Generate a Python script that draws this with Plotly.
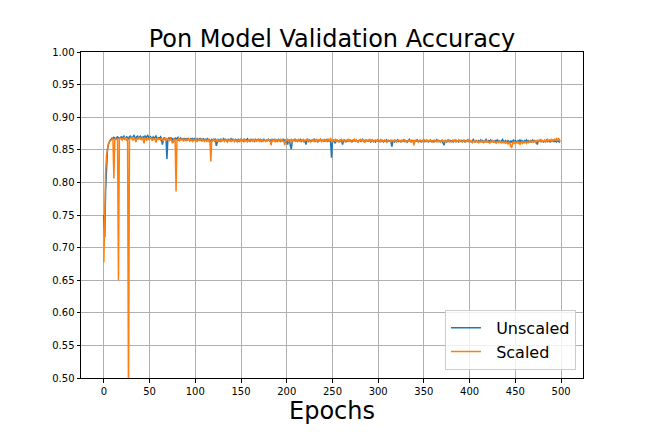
import plotly.graph_objects as go

# validation accuracy per epoch
unscaled = [
    0.750, 0.716, 0.790, 0.840, 0.851, 0.858, 0.862, 0.865, 0.866, 0.868,
    0.867, 0.869, 0.868, 0.866, 0.869, 0.870, 0.868, 0.867, 0.869, 0.870,
    0.868, 0.869, 0.871, 0.867, 0.868, 0.870, 0.869, 0.866, 0.870, 0.871,
    0.869, 0.868, 0.870, 0.872, 0.869, 0.867, 0.870, 0.871, 0.868, 0.869,
    0.871, 0.869, 0.866, 0.870, 0.869, 0.871, 0.868, 0.870, 0.872, 0.869,
    0.868, 0.870, 0.869, 0.867, 0.870, 0.868, 0.869, 0.871, 0.868, 0.866,
    0.869, 0.867, 0.870, 0.868, 0.858, 0.867, 0.869, 0.866, 0.868, 0.836,
    0.866, 0.868, 0.867, 0.869, 0.866, 0.868, 0.861, 0.867, 0.868, 0.866,
    0.867, 0.869, 0.865, 0.867, 0.868, 0.866, 0.867, 0.865, 0.868, 0.866,
    0.867, 0.865, 0.868, 0.866, 0.864, 0.867, 0.866, 0.868, 0.865, 0.867,
    0.866, 0.864, 0.867, 0.865, 0.866, 0.868, 0.865, 0.864, 0.866, 0.867,
    0.865, 0.866, 0.864, 0.867, 0.865, 0.866, 0.863, 0.865, 0.866, 0.864,
    0.866, 0.865, 0.867, 0.856, 0.864, 0.866, 0.865, 0.863, 0.866, 0.864,
    0.865, 0.867, 0.864, 0.866, 0.865, 0.863, 0.866, 0.864, 0.865, 0.867,
    0.864, 0.866, 0.865, 0.863, 0.866, 0.865, 0.864, 0.866, 0.863, 0.865,
    0.866, 0.864, 0.865, 0.863, 0.866, 0.864, 0.865, 0.867, 0.864, 0.865,
    0.863, 0.865, 0.866, 0.864, 0.865, 0.863, 0.866, 0.864, 0.865, 0.866,
    0.864, 0.866, 0.863, 0.865, 0.864, 0.866, 0.865, 0.863, 0.865, 0.864,
    0.866, 0.864, 0.865, 0.863, 0.866, 0.864, 0.865, 0.866, 0.863, 0.865,
    0.864, 0.866, 0.865, 0.863, 0.865, 0.864, 0.866, 0.864, 0.865, 0.863,
    0.865, 0.858, 0.864, 0.866, 0.856, 0.851, 0.863, 0.865, 0.864, 0.866,
    0.864, 0.865, 0.863, 0.865, 0.864, 0.866, 0.863, 0.865, 0.864, 0.862,
    0.865, 0.858, 0.864, 0.866, 0.863, 0.865, 0.864, 0.863, 0.865, 0.864,
    0.866, 0.863, 0.865, 0.864, 0.862, 0.865, 0.864, 0.866, 0.863, 0.865,
    0.864, 0.863, 0.865, 0.864, 0.866, 0.863, 0.865, 0.864, 0.862, 0.838,
    0.864, 0.865, 0.863, 0.860, 0.864, 0.865, 0.863, 0.864, 0.862, 0.865,
    0.864, 0.858, 0.863, 0.865, 0.864, 0.862, 0.865, 0.863, 0.864, 0.865,
    0.863, 0.864, 0.862, 0.865, 0.864, 0.863, 0.865, 0.864, 0.862, 0.864,
    0.865, 0.863, 0.864, 0.866, 0.863, 0.864, 0.862, 0.865, 0.864, 0.863,
    0.865, 0.864, 0.862, 0.864, 0.865, 0.863, 0.864, 0.862, 0.864, 0.865,
    0.863, 0.864, 0.862, 0.865, 0.863, 0.864, 0.862, 0.864, 0.863, 0.865,
    0.862, 0.864, 0.863, 0.864, 0.862, 0.855, 0.863, 0.864, 0.862, 0.864,
    0.863, 0.865, 0.862, 0.864, 0.863, 0.862, 0.864, 0.863, 0.865, 0.862,
    0.864, 0.863, 0.862, 0.864, 0.866, 0.863, 0.862, 0.864, 0.863, 0.864,
    0.862, 0.864, 0.863, 0.865, 0.862, 0.864, 0.863, 0.862, 0.864, 0.863,
    0.865, 0.862, 0.864, 0.863, 0.864, 0.862, 0.863, 0.865, 0.862, 0.864,
    0.863, 0.862, 0.864, 0.863, 0.865, 0.862, 0.864, 0.863, 0.862, 0.864,
    0.863, 0.860, 0.857, 0.863, 0.864, 0.862, 0.863, 0.865, 0.862, 0.864,
    0.863, 0.864, 0.862, 0.863, 0.865, 0.862, 0.864, 0.863, 0.862, 0.864,
    0.863, 0.865, 0.862, 0.864, 0.863, 0.862, 0.864, 0.863, 0.865, 0.862,
    0.864, 0.863, 0.862, 0.864, 0.866, 0.863, 0.862, 0.864, 0.863, 0.862,
    0.864, 0.863, 0.865, 0.862, 0.864, 0.863, 0.862, 0.864, 0.866, 0.863,
    0.862, 0.864, 0.863, 0.865, 0.862, 0.864, 0.863, 0.862, 0.864, 0.863,
    0.865, 0.862, 0.864, 0.863, 0.862, 0.864, 0.866, 0.863, 0.862, 0.864,
    0.863, 0.862, 0.864, 0.863, 0.860, 0.864, 0.862, 0.863, 0.865, 0.862,
    0.864, 0.863, 0.862, 0.864, 0.863, 0.865, 0.862, 0.864, 0.863, 0.862,
    0.864, 0.863, 0.865, 0.862, 0.864, 0.863, 0.862, 0.864, 0.863, 0.865,
    0.862, 0.864, 0.863, 0.862, 0.858, 0.864, 0.863, 0.865, 0.862, 0.864,
    0.863, 0.862, 0.864, 0.863, 0.865, 0.862, 0.864, 0.863, 0.862, 0.864,
    0.863, 0.865, 0.862, 0.864, 0.863, 0.862, 0.864, 0.863, 0.862, 0.863,
]

scaled = [
    0.677, 0.758, 0.818, 0.842, 0.852, 0.858, 0.862, 0.864, 0.865, 0.866,
    0.867, 0.806, 0.865, 0.867, 0.866, 0.868, 0.650, 0.866, 0.868, 0.867,
    0.865, 0.868, 0.866, 0.869, 0.867, 0.864, 0.868, 0.450, 0.866, 0.868,
    0.867, 0.869, 0.865, 0.867, 0.868, 0.862, 0.867, 0.869, 0.866, 0.868,
    0.867, 0.865, 0.869, 0.866, 0.860, 0.868, 0.867, 0.865, 0.868, 0.866,
    0.867, 0.869, 0.866, 0.864, 0.868, 0.866, 0.867, 0.861, 0.866, 0.868,
    0.866, 0.867, 0.865, 0.868, 0.866, 0.864, 0.867, 0.866, 0.868, 0.865,
    0.867, 0.866, 0.864, 0.867, 0.865, 0.860, 0.866, 0.867, 0.865, 0.786,
    0.866, 0.865, 0.867, 0.864, 0.866, 0.865, 0.867, 0.863, 0.866, 0.865,
    0.864, 0.866, 0.865, 0.867, 0.864, 0.866, 0.865, 0.863, 0.866, 0.865,
    0.864, 0.866, 0.863, 0.865, 0.866, 0.864, 0.865, 0.867, 0.864, 0.865,
    0.863, 0.866, 0.864, 0.865, 0.863, 0.866, 0.864, 0.832, 0.865, 0.864,
    0.866, 0.863, 0.865, 0.864, 0.866, 0.862, 0.865, 0.864, 0.863, 0.866,
    0.864, 0.865, 0.863, 0.866, 0.864, 0.862, 0.865, 0.864, 0.866, 0.863,
    0.865, 0.864, 0.866, 0.863, 0.865, 0.864, 0.862, 0.865, 0.864, 0.866,
    0.863, 0.865, 0.864, 0.866, 0.863, 0.865, 0.864, 0.862, 0.865, 0.864,
    0.866, 0.864, 0.865, 0.863, 0.866, 0.864, 0.865, 0.863, 0.864, 0.866,
    0.863, 0.865, 0.864, 0.866, 0.862, 0.865, 0.864, 0.863, 0.865, 0.864,
    0.866, 0.864, 0.863, 0.857, 0.865, 0.864, 0.866, 0.863, 0.865, 0.864,
    0.862, 0.865, 0.864, 0.866, 0.863, 0.865, 0.864, 0.862, 0.857, 0.865,
    0.864, 0.866, 0.863, 0.865, 0.864, 0.866, 0.863, 0.865, 0.864, 0.866,
    0.863, 0.865, 0.864, 0.866, 0.865, 0.863, 0.865, 0.864, 0.866, 0.863,
    0.865, 0.864, 0.866, 0.863, 0.865, 0.864, 0.862, 0.865, 0.864, 0.866,
    0.863, 0.865, 0.864, 0.866, 0.863, 0.865, 0.864, 0.866, 0.863, 0.865,
    0.864, 0.866, 0.865, 0.863, 0.865, 0.864, 0.866, 0.864, 0.867, 0.865,
    0.863, 0.865, 0.864, 0.866, 0.863, 0.865, 0.864, 0.862, 0.865, 0.864,
    0.866, 0.863, 0.865, 0.864, 0.862, 0.865, 0.864, 0.866, 0.863, 0.865,
    0.864, 0.862, 0.865, 0.864, 0.866, 0.863, 0.865, 0.864, 0.862, 0.865,
    0.864, 0.866, 0.863, 0.865, 0.864, 0.862, 0.865, 0.864, 0.863, 0.865,
    0.864, 0.866, 0.863, 0.865, 0.864, 0.862, 0.864, 0.865, 0.863, 0.864,
    0.865, 0.863, 0.864, 0.862, 0.865, 0.864, 0.863, 0.865, 0.864, 0.862,
    0.864, 0.865, 0.863, 0.864, 0.862, 0.865, 0.864, 0.863, 0.865, 0.864,
    0.862, 0.864, 0.865, 0.863, 0.864, 0.862, 0.865, 0.864, 0.863, 0.865,
    0.864, 0.862, 0.864, 0.865, 0.863, 0.864, 0.862, 0.865, 0.864, 0.857,
    0.864, 0.863, 0.865, 0.864, 0.862, 0.864, 0.865, 0.863, 0.864, 0.862,
    0.865, 0.864, 0.863, 0.865, 0.862, 0.864, 0.863, 0.865, 0.864, 0.862,
    0.864, 0.865, 0.863, 0.864, 0.862, 0.865, 0.863, 0.864, 0.862, 0.864,
    0.865, 0.863, 0.864, 0.862, 0.864, 0.863, 0.865, 0.862, 0.864, 0.863,
    0.862, 0.864, 0.865, 0.863, 0.864, 0.862, 0.864, 0.863, 0.865, 0.862,
    0.864, 0.863, 0.862, 0.864, 0.865, 0.863, 0.862, 0.864, 0.863, 0.865,
    0.862, 0.864, 0.863, 0.861, 0.864, 0.862, 0.863, 0.864, 0.862, 0.863,
    0.861, 0.863, 0.862, 0.864, 0.862, 0.861, 0.863, 0.862, 0.864, 0.861,
    0.863, 0.862, 0.860, 0.863, 0.862, 0.864, 0.861, 0.863, 0.862, 0.860,
    0.862, 0.863, 0.861, 0.863, 0.862, 0.860, 0.863, 0.861, 0.862, 0.860,
    0.862, 0.861, 0.859, 0.862, 0.860, 0.855, 0.853, 0.861, 0.860, 0.862,
    0.859, 0.861, 0.863, 0.860, 0.862, 0.858, 0.861, 0.863, 0.860, 0.862,
    0.861, 0.863, 0.860, 0.862, 0.861, 0.863, 0.862, 0.864, 0.861, 0.863,
    0.862, 0.864, 0.861, 0.863, 0.865, 0.862, 0.864, 0.863, 0.865, 0.862,
    0.864, 0.863, 0.865, 0.862, 0.864, 0.866, 0.863, 0.865, 0.864, 0.866,
    0.863, 0.865, 0.864, 0.866, 0.865, 0.867, 0.864, 0.868, 0.866, 0.863,
]

epochs = list(range(len(unscaled)))
x_ticks = list(range(0, 501, 50))
y_ticks = [0.50, 0.55, 0.60, 0.65, 0.70, 0.75, 0.80, 0.85, 0.90, 0.95, 1.00]

# non-breaking spaces give the legend text the same gap after the line sample
fig = go.Figure()
fig.add_trace(go.Scatter(x=epochs, y=unscaled, mode='lines', name='\u00a0\u00a0Unscaled',
                         line=dict(color='#1f77b4', width=1.5)))
fig.add_trace(go.Scatter(x=epochs, y=scaled, mode='lines', name='\u00a0\u00a0Scaled',
                         line=dict(color='#ff7f0e', width=1.5)))

axis_style = dict(
    showline=True, linecolor='black', linewidth=1, mirror=True,
    showgrid=True, gridcolor='#b0b0b0', gridwidth=0.8,
    ticks='outside', ticklen=3.5, tickcolor='black', tickwidth=0.8,
    tickfont=dict(family='DejaVu Sans', size=10, color='black'),
    zeroline=False,
)

# the page body has an 8px margin, so the plot box is shifted back by it
fig.update_layout(
    width=648, height=432,
    margin=dict(l=73, r=73, t=44, b=62, autoexpand=False),
    paper_bgcolor='white', plot_bgcolor='white',
    font=dict(family='DejaVu Sans', color='black'),
    title=dict(text='Pon Model Validation Accuracy', x=0.5, xanchor='center',
               y=0.91, yanchor='bottom', yref='container',
               font=dict(size=24, color='black')),
    xaxis=dict(axis_style, range=[-24.95, 523.95], tickvals=x_ticks,
               title=dict(text='Epochs', font=dict(size=24), standoff=6)),
    yaxis=dict(axis_style, range=[0.5, 1.0], tickvals=y_ticks, tickformat='.2f'),
    legend=dict(x=0.986, xanchor='right', y=0.025, yanchor='bottom',
                bgcolor='rgba(255,255,255,0.8)', bordercolor='#cccccc', borderwidth=1,
                font=dict(size=16, color='black'), itemwidth=30),
    showlegend=True,
)

fig.write_html('out.html')
